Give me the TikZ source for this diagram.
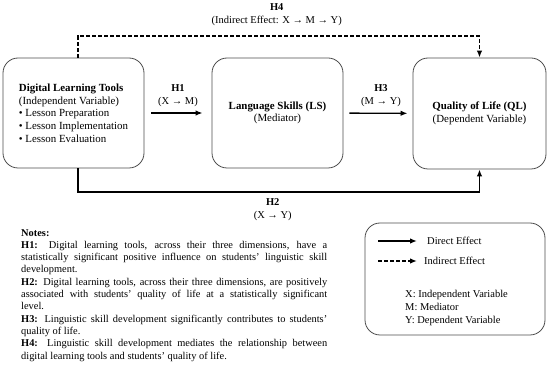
\documentclass[tikz,border=0pt]{standalone}
\usepackage{fontspec}
\setmainfont{Liberation Serif}
\usetikzlibrary{arrows.meta,calc}

\begin{document}
\begin{tikzpicture}[>={Latex[length=7pt,width=5.5pt]}, x=1pt, y=-1pt,
  box/.style={draw=black!70, line width=0.8pt, rounded corners=15pt,
    font=\fontsize{10.9}{12.7}\selectfont, align=center},
  direct/.style={->, line width=1.4pt},
  indirect/.style={->, line width=1.4pt, dash pattern=on 4pt off 2pt},
  hyp/.style={font=\fontsize{10.5}{12.5}\selectfont, align=center, inner sep=1pt},
  legtext/.style={font=\fontsize{10.5}{13}\selectfont, inner sep=1pt}]
  \useasboundingbox (0,0) rectangle (550,374);
  % the three variables
  \node[box, minimum width=141pt, minimum height=110pt, align=left] (dlt) at (73.5,113)
    {\textbf{Digital Learning Tools}\\(Independent Variable)\\• Lesson Preparation\\• Lesson Implementation\\• Lesson Evaluation};
  \node[box, minimum width=131pt, minimum height=110pt] (ls) at (277.5,113)
    {\textbf{Language Skills (LS)}\\(Mediator)};
  \node[box, minimum width=133pt, minimum height=111pt] (ql) at (479.5,113.5)
    {\textbf{Quality of Life (QL)}\\(Dependent Variable)};
  % direct paths
  \draw[direct, shorten <=7pt, shorten >=9pt] (dlt) -- (ls)
    node[hyp, midway, above=5pt]{\textbf{H1}\\(X → M)};
  \draw[direct, shorten <=6pt, shorten >=5pt] (ls) -- (ql)
    node[hyp, midway, above=5pt, xshift=3pt]{\textbf{H3}\\(M → Y)};
  \coordinate (h2turn) at (78,192);
  \draw[direct] (dlt.south -| h2turn) -- (h2turn) -- (h2turn -| ql.south)
    node[hyp, midway, below=5pt, xshift=-6pt]{\textbf{H2}\\(X → Y)} -- (ql.south);
  % indirect path
  \coordinate (h4turn) at (78,36);
  \draw[indirect] (dlt.north -| h4turn) -- (h4turn) -- (h4turn -| ql.north)
    node[hyp, midway, above=9pt, xshift=-2pt]{\textbf{H4}\\(Indirect Effect: X → M → Y)} -- (ql.north);
  % notes
  \node[anchor=north west, text width=306pt, align=justify, inner sep=0pt,
    font=\fontsize{10.4}{12.3}\selectfont] (notes) at (21,229)
    {\textbf{Notes:}\\
     \textbf{H1:} Digital learning tools, across their three dimensions, have a\linebreak
     statistically significant positive influence on students' linguistic skill\linebreak
     development.\\
     \textbf{H2:} Digital learning tools, across their three dimensions, are positively\linebreak
     associated with students' quality of life at a statistically significant\linebreak
     level.\\
     \textbf{H3:} Linguistic skill development significantly contributes to students'\linebreak
     quality of life.\\
     \textbf{H4:} Linguistic skill development mediates the relationship between\linebreak
     digital learning tools and students' quality of life.};
  % legend
  \node[draw=black!70, line width=0.8pt, rounded corners=15pt,
    minimum width=180pt, minimum height=112pt] (legend) at (455,279) {};
  \coordinate (dstart) at (378,241);
  \coordinate (istart) at (378,261);
  \node[legtext, anchor=west] (dtxt) at (426,241) {Direct Effect};
  \node[legtext, anchor=west] (itxt) at (423,261) {Indirect Effect};
  \draw[direct, shorten >=9pt] (dstart) -- (dtxt.west);
  \draw[indirect, shorten >=6pt] (istart) -- (itxt.west);
  \node[legtext, anchor=west, align=left] (vars) at (404,307.5)
    {X: Independent Variable\\M: Mediator\\Y: Dependent Variable};
\end{tikzpicture}
\end{document}
